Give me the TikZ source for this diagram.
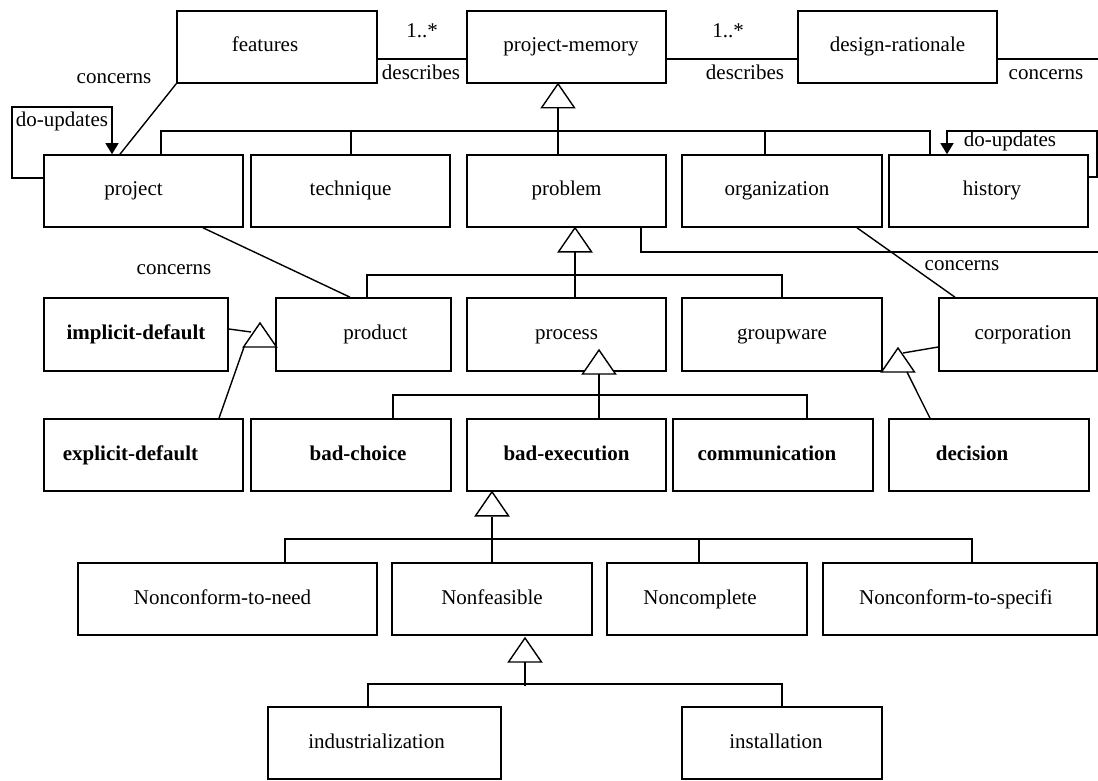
\documentclass[tikz,border=0pt]{standalone}
\usepackage{fontspec}
\setmainfont{Liberation Serif}
\usetikzlibrary{arrows.meta}
% open generalisation triangle with its apex at the given point
\newcommand\gentri[1]{\draw[gen] (#1) -- ++(-16.5,24) -- ++(33,0) -- cycle;}
\begin{document}
\begin{tikzpicture}[x=1pt,y=-1pt,
  every node/.style={font=\fontsize{21}{25}\selectfont},
  cls/.style={draw, line width=1.6pt, inner sep=0pt, minimum height=72pt,
    text height=14pt, text depth=4pt},
  bcls/.style={cls, font=\fontsize{21}{25}\selectfont\bfseries},
  lbl/.style={inner sep=0pt, text height=14pt, text depth=4pt},
  wire/.style={line width=1.4pt},
  gen/.style={draw, line width=1.4pt, fill=white, line join=miter},
  self/.style={wire, -{Triangle[width=13pt,length=11pt]}},
  tshift/.style={execute at begin node={\hspace*{#1}}}
]
\useasboundingbox (0,0) rectangle (1098,781);

% ---- top row
\node[cls, minimum width=200pt, tshift=-24pt] (features) at (277,47) {features};
\node[cls, minimum width=199pt, tshift=9pt] (pm) at (566.5,47) {project-memory};
\node[cls, minimum width=199pt] (dr) at (897.5,47) {design-rationale};

% ---- first level
\node[cls, minimum width=199pt, tshift=-20pt] (project) at (143.5,191) {project};
\node[cls, minimum width=199pt] (technique) at (350.5,191) {technique};
\node[cls, minimum width=199pt] (problem) at (566.5,191) {problem};
\node[cls, minimum width=200pt, tshift=-10pt] (organization) at (782,191) {organization};
\node[cls, minimum width=199pt, tshift=7pt] (history) at (988.5,191) {history};

% ---- second level
\node[bcls, minimum width=184pt, minimum height=73pt] (implicit) at (136,334.5) {implicit-default};
\node[cls, minimum width=175pt, minimum height=73pt, tshift=24pt] (product) at (363.5,334.5) {product};
\node[cls, minimum width=199pt, minimum height=73pt] (process) at (566.5,334.5) {process};
\node[cls, minimum width=200pt, minimum height=73pt] (groupware) at (782,334.5) {groupware};
\node[cls, minimum width=158pt, minimum height=73pt, tshift=10pt] (corporation) at (1018,334.5) {corporation};

% ---- third level
\node[bcls, minimum width=199pt, tshift=-26pt] (explicit) at (143.5,455) {explicit-default};
\node[bcls, minimum width=200pt, tshift=14pt] (badchoice) at (351,455) {bad-choice};
\node[bcls, minimum width=199pt] (badexec) at (566.5,455) {bad-execution};
\node[bcls, minimum width=200pt, tshift=-12pt] (communication) at (773,455) {communication};
\node[bcls, minimum width=200pt, tshift=-34pt] (decision) at (989,455) {decision};

% ---- fourth level
\node[cls, minimum width=299pt, tshift=-10pt] (ncneed) at (227.5,599) {Nonconform-to-need};
\node[cls, minimum width=200pt] (nfeasible) at (492,599) {Nonfeasible};
\node[cls, minimum width=200pt, tshift=-14pt] (ncomplete) at (707,599) {Noncomplete};
\node[cls, minimum width=274pt, tshift=-8pt] (ncspec) at (960,599) {Nonconform-to-specifi};

% ---- fifth level
\node[cls, minimum width=233pt, tshift=-16pt] (industrial) at (384.5,743) {industrialization};
\node[cls, minimum width=200pt, tshift=-12pt] (installation) at (782,743) {installation};

% ---- associations along the top
\draw[wire] (features.east |- 0,59) -- (pm.west |- 0,59);
\draw[wire] (pm.east |- 0,59) -- (dr.west |- 0,59);
\coordinate (drend) at (1098,59);
\draw[wire] (dr.east |- 0,59) -- (drend);
\node[lbl] (m1) at (422,33) {1..*};
\node[lbl] (d1) at (421,75) {describes};
\node[lbl] (m2) at (728,33) {1..*};
\node[lbl] (d2) at (745,75) {describes};
\node[lbl] (c0) at (1046,75) {concerns};

% features concerns project
\draw[wire] (features.south west) -- (project.north -| 120,0);
\node[lbl] (c1) at (114,79) {concerns};

% self associations
\draw[self] (project.west |- 0,178) -- (12,178) -- (12,107) -- (112,107) -- (project.north -| 112,0);
\node[lbl] (u1) at (62,122) {do-updates};
\draw[self] (history.east |- 0,177) -- (1097,177) -- (1097,131) -- (947,131) -- (history.north -| 947,0);
\node[lbl] (u2) at (1010,142) {do-updates};

% project-memory specialisations
\gentri{pm.south -| 558,0}
\draw[wire] (558,107) -- (problem.north -| 558,0);
\draw[wire] (project.north -| 161,0) -- (161,131) -- (930,131) -- (history.north -| 930,0);
\draw[wire] (technique.north -| 351,0) -- (351,131);
\draw[wire] (organization.north -| 765,0) -- (765,131);

% problem specialisations
\gentri{problem.south -| 575,0}
\draw[wire] (575,251) -- (process.north -| 575,0);
\draw[wire] (product.north -| 367,0) -- (367,275) -- (782,275) -- (groupware.north -| 782,0);
\coordinate (prend) at (1098,252);
\draw[wire] (problem.south -| 641,0) -- (641,252) -- (prend);

% concerns links
\draw[wire] (project.south -| 203,0) -- (product.north -| 350,0);
\node[lbl] (c2) at (174,269) {concerns};
\draw[wire] (organization.south -| 857,0) -- (corporation.north -| 955,0);
\node[lbl] (c3) at (962,265) {concerns};

% product specialisations
\gentri{260,323}
\draw[wire] (implicit.east |- 0,329) -- (251,332);
\draw[wire] (explicit.north -| 219,0) -- (244,347);

% corporation / decision
\gentri{898,348}
\draw[wire] (corporation.west |- 0,347) -- (903,353);
\draw[wire] (decision.north -| 930,0) -- (907,372);

% process specialisations
\gentri{599,350}
\draw[wire] (599,374) -- (badexec.north -| 599,0);
\draw[wire] (badchoice.north -| 393,0) -- (393,395) -- (807,395) -- (communication.north -| 807,0);

% bad-execution specialisations
\gentri{badexec.south -| 492,0}
\draw[wire] (492,517) -- (nfeasible.north -| 492,0);
\draw[wire] (ncneed.north -| 285,0) -- (285,539) -- (972,539) -- (ncspec.north -| 972,0);
\draw[wire] (ncomplete.north -| 699,0) -- (699,539);

% nonfeasible specialisations
\gentri{525,638}
\draw[wire] (525,662) -- (525,686);
\draw[wire] (industrial.north -| 368,0) -- (368,684) -- (782,684) -- (installation.north -| 782,0);
\end{tikzpicture}
\end{document}
